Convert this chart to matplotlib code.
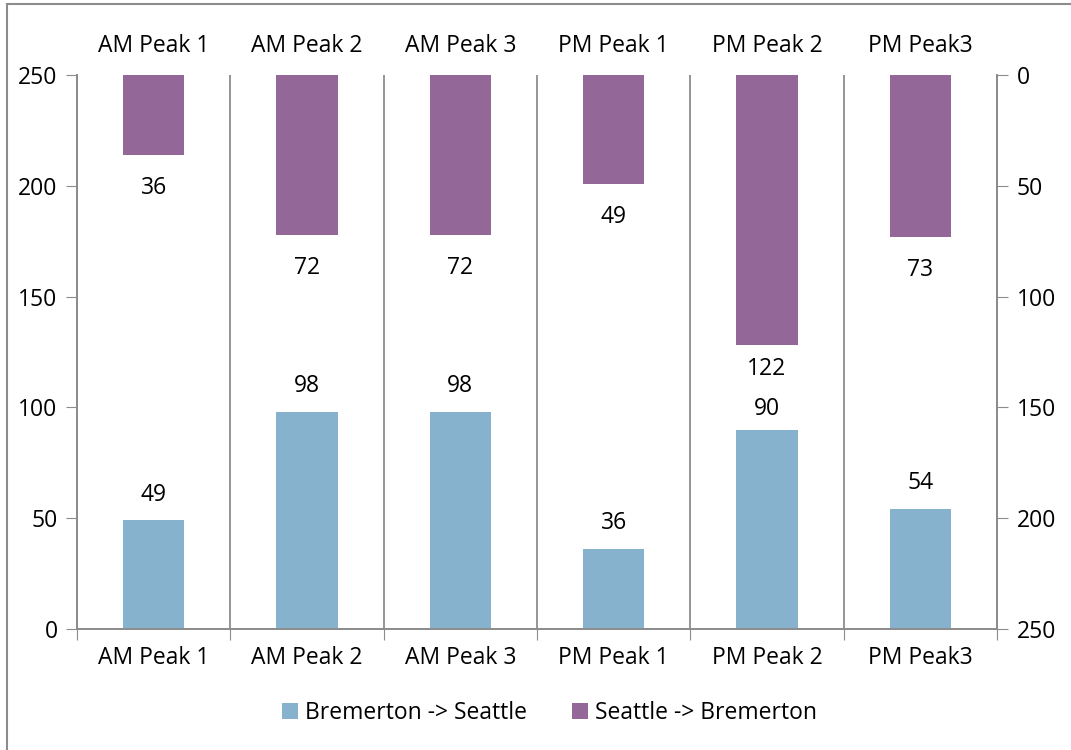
import matplotlib
matplotlib.use("Agg")
import matplotlib.pyplot as plt
from matplotlib.patches import Rectangle
import numpy as np

categories = ["AM Peak 1", "AM Peak 2", "AM Peak 3", "PM Peak 1", "PM Peak 2", "PM Peak3"]
bremerton_to_seattle = [49, 98, 98, 36, 90, 54]
seattle_to_bremerton = [36, 72, 72, 49, 122, 73]
series_names = ["Bremerton -> Seattle", "Seattle -> Bremerton"]
y_ticks = [0, 50, 100, 150, 200, 250]

BLUE = "#87B2CD"
PURPLE = "#936899"
GRID = "#8C8C8C"
FS = 16.5

plt.rcParams["font.family"] = ["Open Sans", "DejaVu Sans"]

fig = plt.figure(figsize=(10.71, 7.5), dpi=100)
W, H = 1071, 750
left, right, top, bottom = 77, 997, 75, 629
ax = fig.add_axes([left / W, 1 - bottom / H, (right - left) / W, (bottom - top) / H])
ax2 = ax.twinx()

x = np.arange(len(categories))
width = 0.4

b1 = ax.bar(x, bremerton_to_seattle, width, color=BLUE, label=series_names[0], zorder=3)
b2 = ax2.bar(x, seattle_to_bremerton, width, color=PURPLE, label=series_names[1], zorder=3)

ax.set_xlim(-0.5, len(categories) - 0.5)
ax.set_ylim(0, 250)
ax2.set_ylim(250, 0)
ax.set_yticks(y_ticks)
ax2.set_yticks(y_ticks)

# category boundaries as major ticks / gridlines; labels on minor ticks at centres
bounds = np.arange(len(categories) + 1) - 0.5
ax.set_xticks(bounds)
ax.set_xticklabels([])
ax.set_xticks(x, minor=True)
ax.set_xticklabels(categories, minor=True, fontsize=FS)
ax.tick_params(axis="x", which="minor", length=0, pad=12,
               top=True, labeltop=True, bottom=True, labelbottom=True)
ax.tick_params(axis="x", which="major", length=8, color=GRID, top=False, bottom=True)
ax.xaxis.grid(True, which="major", color=GRID, linewidth=1.3, zorder=0)

ax.tick_params(axis="y", length=8, color=GRID, labelsize=FS, pad=6)
ax2.tick_params(axis="y", length=8, color=GRID, labelsize=FS, pad=6)

for a in (ax, ax2):
    for s in a.spines.values():
        s.set_color(GRID)
        s.set_linewidth(1.3)
    a.spines["top"].set_visible(False)

# value labels; the crowded PM Peak 2 pair is pulled apart a little
blue_shift = {4: -4}
purple_shift = {4: 7}
for i, (xi, v) in enumerate(zip(x, bremerton_to_seattle)):
    ax.annotate(str(v), (xi, v), xytext=(0, 10 + blue_shift.get(i, 0)),
                textcoords="offset points", ha="center", va="bottom", fontsize=FS)
for i, (xi, v) in enumerate(zip(x, seattle_to_bremerton)):
    ax2.annotate(str(v), (xi, v), xytext=(0, -15.5 + purple_shift.get(i, 0)),
                 textcoords="offset points", ha="center", va="top", fontsize=FS)

handles = [b1, b2]
fig.legend(handles, series_names, loc="center", bbox_to_anchor=(0.5 + 14 / W, 1 - 713 / H),
           ncol=2, frameon=False, fontsize=FS, handlelength=0.7, handleheight=0.7,
           handletextpad=0.3, columnspacing=2.0)

# chart frame
fig.patches.append(Rectangle((7 / W, -0.1), 2, 1 - 4 / H + 0.1, transform=fig.transFigure,
                             fill=False, edgecolor=GRID, linewidth=1.5))

fig.savefig("out.png", dpi=100)
